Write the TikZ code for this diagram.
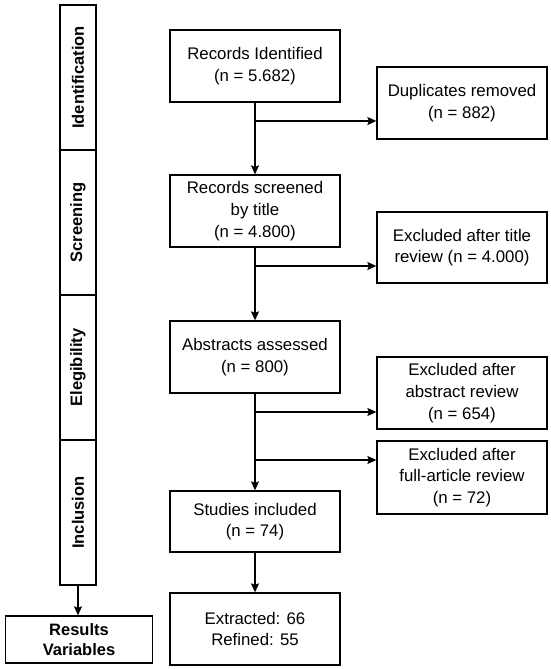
\documentclass[tikz,border=0pt]{standalone}
\usepackage{fontspec}
\setmainfont{Liberation Sans}
\usetikzlibrary{arrows.meta}
\begin{document}
\begin{tikzpicture}[x=1pt,y=-1pt,
  every node/.style={font=\fontsize{16.8}{21.7}\selectfont},
  box/.style={draw, line width=1.3pt, align=center, minimum width=170, minimum height=72, inner sep=2pt},
  phase/.style={draw, line width=1.3pt, rotate=90, minimum width=145, minimum height=36, inner sep=0pt, font=\fontsize{16.5}{20}\selectfont\bfseries},
  arr/.style={line width=1.3pt, -{Stealth[length=9pt,width=8pt,inset=1.5pt]}}]
\useasboundingbox (0,0) rectangle (550,669);
% phases
\node[phase] (p1) at (78,77.5) {Identification};
\node[phase] (p2) at (78,222.5) {Screening};
\node[phase] (p3) at (78,367.5) {Elegibility};
\node[phase] (p4) at (78,512.5) {Inclusion};
\node[draw, line width=1.3pt, minimum width=147, minimum height=47, align=center, inner sep=0pt, font=\fontsize{16.5}{20}\selectfont\bfseries] (res) at (79,639.5) {Results\\Variables};
\draw[arr] (p4.west) -- (p4.west |- res.north);
% main column
\node[box] (rec) at (255,66) {Records Identified\\(n = 5.682)};
\node[box] (scr) at (255,211) {Records screened\\by title\\(n = 4.800)};
\node[box] (abs) at (255,357) {Abstracts assessed\\(n = 800)};
\node[box, minimum height=61] (stu) at (255,521.5) {Studies included\\(n = 74)};
\node[box] (ext) at (255,629) {Extracted: 66\\Refined: 55};
% right column
\node[box] (dup) at (462,103) {Duplicates removed\\(n = 882)};
\node[box, minimum height=71] (ex1) at (462,247.5) {Excluded after title\\review (n = 4.000)};
\node[box] (ex2) at (462,393) {Excluded after\\abstract review\\(n = 654)};
\node[box, minimum height=73] (ex3) at (462,477.5) {Excluded after\\full-article review\\(n = 72)};
% vertical arrows
\draw[arr] (rec.south) -- (scr.north);
\draw[arr] (scr.south) -- (abs.north);
\draw[arr] (abs.south) -- (stu.north);
\draw[arr] (stu.south) -- (ext.north);
% branch arrows
\coordinate (j1) at (255,121);
\coordinate (j2) at (255,266);
\coordinate (j3) at (255,412);
\coordinate (j4) at (255,460);
\draw[arr] (j1) -- (j1 -| dup.west);
\draw[arr] (j2) -- (j2 -| ex1.west);
\draw[arr] (j3) -- (j3 -| ex2.west);
\draw[arr] (j4) -- (j4 -| ex3.west);
\end{tikzpicture}
\end{document}
